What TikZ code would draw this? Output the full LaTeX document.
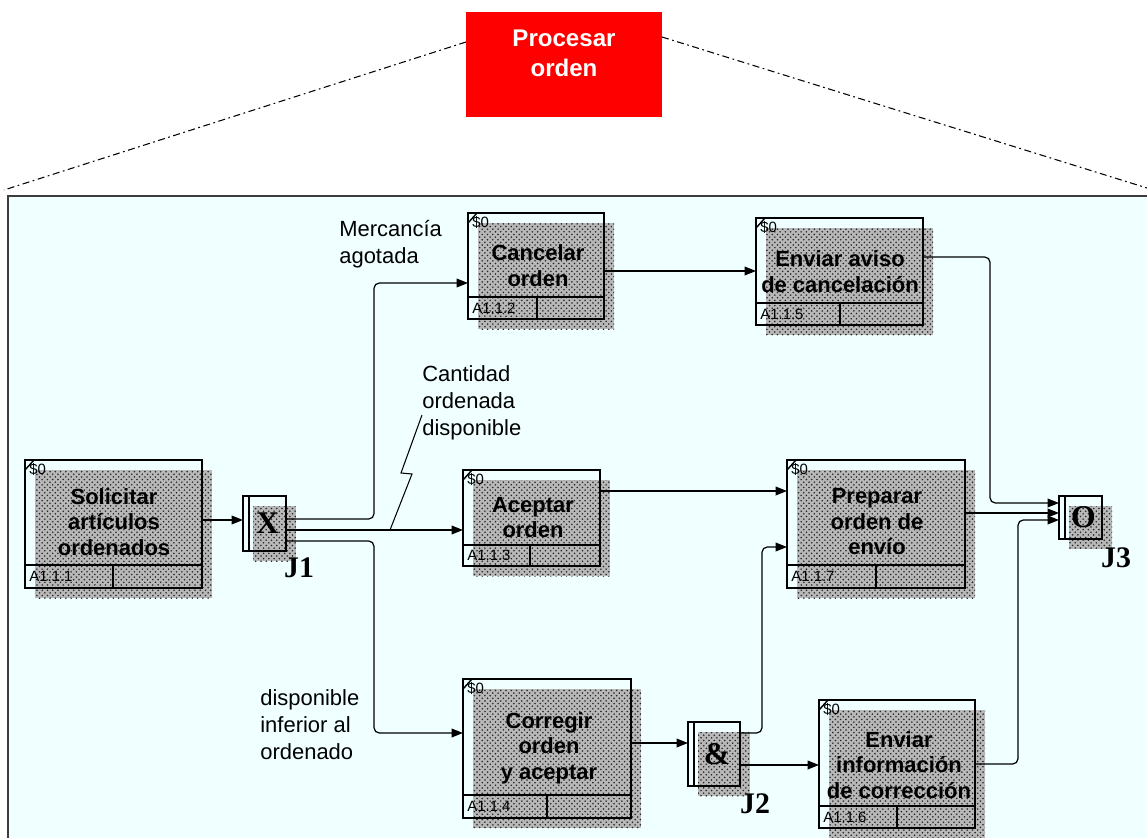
\documentclass[tikz,border=0pt]{standalone}
\usepackage{fontspec}
\setmainfont{Liberation Sans}
\newfontfamily\junctionfont{Liberation Serif}
\usetikzlibrary{patterns,arrows.meta,calc}

\definecolor{panelbg}{RGB}{240,255,255}
\definecolor{panelrule}{RGB}{60,60,60}
\definecolor{hatch}{gray}{0.15}
\definecolor{hatchbase}{gray}{0.72}
\definecolor{procred}{RGB}{255,0,0}

% Activity box: name, x, y, width, height, divider offset, split offset, number
\newcommand\idefact[8]{%
  \fill[hatchbase] (#2+10,#3+10) rectangle ++(#4,#5);
  \fill[dropshadow] (#2+10,#3+10) rectangle ++(#4,#5);
  \node[actframe, minimum width={#4*0.02cm}, minimum height={#5*0.02cm}] (#1) at (#2,#3) {};
  \draw[boxrule] ($(#1.north west)+(0,#6)$) -- ++(#4,0);
  \draw[boxrule] ($(#1.north west)+(#7,#6)$) -- ($(#1.north west)+(#7,#5)$);
  \draw[line width=0.8pt] ($(#1.north west)+(0,10)$) -- ++(9,-10);
  \node[idtext, anchor=north west] at ($(#1.north west)+(4,3)$) {\$0};
  \node[idtext, anchor=west] at ($(#1.north west)+(4,{(#5+#6)/2})$) {#8};
}

% Junction box: name, x, y, width, height, symbol
\newcommand\idefjunc[6]{%
  \fill[hatchbase] (#2+10,#3+10) rectangle ++(#4,#5);
  \fill[dropshadow] (#2+10,#3+10) rectangle ++(#4,#5);
  \node[actframe, minimum width={#4*0.02cm}, minimum height={#5*0.02cm}] (#1) at (#2,#3) {};
  \draw[boxrule] ($(#1.north west)+(6,0)$) -- ($(#1.south west)+(6,0)$);
  \node[jsym] at ($(#1.center)+(3,0)$) {#6};
}

\begin{document}
\begin{tikzpicture}[x=0.02cm, y=-0.02cm,
  dropshadow/.style={pattern=crosshatch dots, pattern color=hatch},
  actframe/.style={draw, line width=1.1pt, rectangle, inner sep=0pt, outer sep=0pt, anchor=north west},
  boxrule/.style={line width=1.1pt},
  conn/.style={line width=0.7pt, -{Triangle[length=6.5pt,width=5pt]}},
  elbow/.style={rounded corners=3pt},
  boxtext/.style={font=\fontsize{12.5}{14.5}\selectfont\bfseries, align=center, inner sep=0pt},
  remark/.style={font=\fontsize{12.5}{15.3}\selectfont, align=left, inner sep=0pt, anchor=west},
  idtext/.style={font=\fontsize{8.5}{9}\selectfont, inner sep=0pt},
  jname/.style={font=\junctionfont\bfseries\fontsize{17}{17}\selectfont, inner sep=0pt},
  jsym/.style={font=\junctionfont\bfseries\fontsize{18}{18}\selectfont, inner sep=0pt},
  contour/.style={dash pattern=on 4pt off 2pt on 1pt off 2pt, line width=0.6pt}]

\useasboundingbox (0,0) rectangle (1147,838);

% parent activity and its decomposition panel
\node[fill=procred, anchor=north west, inner sep=0pt, outer sep=0pt,
      minimum width={196*0.02cm}, minimum height={105*0.02cm}] (proc) at (466,12) {};
\node[font=\fontsize{13.7}{17}\selectfont\bfseries, text=white, align=center, inner sep=0pt]
  (proctext) at (564,53) {Procesar\\orden};
\coordinate (cornerL) at (4,190);
\coordinate (cornerR) at (1147,188);
\draw[contour] (proc.west |- 0,42) -- (cornerL);
\draw[contour] (proc.east |- 0,37) -- (cornerR);

\fill[panelbg] (8,196) rectangle (1147,838);
\draw[panelrule, line width=1.2pt] (8,838) -- (8,196) -- (1147,196);

% activities
\idefact{sol}{25}{460}{177}{128}{105}{88}{A1.1.1}
\idefact{can}{468}{213}{136}{106}{84}{69}{A1.1.2}
\idefact{acp}{463}{470}{137}{96}{75}{67}{A1.1.3}
\idefact{cor}{463}{679}{168}{139}{116}{84}{A1.1.4}
\idefact{avi}{756}{218}{167}{107}{85}{84}{A1.1.5}
\idefact{inf}{819}{700}{156}{128}{106}{78}{A1.1.6}
\idefact{pre}{787}{460}{178}{128}{105}{89}{A1.1.7}

\node[boxtext] (soltext) at (114,522) {Solicitar\\artículos\\ordenados};
\node[boxtext] (cantext) at (538,265.5) {Cancelar\\orden};
\node[boxtext] (acptext) at (533,517.5) {Aceptar\\orden};
\node[boxtext] (cortext) at (549,748) {Corregir\\orden\\y aceptar};
\node[boxtext] (avitext) at (840,271.5) {Enviar aviso\\de cancelación};
\node[boxtext] (inftext) at (899,765) {Enviar\\información\\de corrección};
\node[boxtext] (pretext) at (877,522) {Preparar\\orden de\\envío};

% junctions
\idefjunc{j1}{243}{496}{43}{55}{X}
\idefjunc{j2}{688}{722}{52}{64}{\&}
\idefjunc{j3}{1059}{496}{43}{43}{O}
\node[jname] (j1name) at (299,568) {J1};
\node[jname] (j2name) at (755,804) {J2};
\node[jname] (j3name) at (1116,558) {J3};

% arrow labels
\node[remark] (lblout) at (339,244) {Mercancía\\agotada};
\node[remark] (lblqty) at (422,403) {Cantidad\\ordenada\\disponible};
\node[remark] (lbllow) at (260,725) {disponible\\inferior al\\ordenado};

% connectors
\draw[conn] (sol.east |- 0,520) -- (j1.west |- 0,520);
\draw[conn, elbow] (j1.east |- 0,519) -- (374,519) -- (374,283) -- (can.west |- 0,283);
\draw[conn] (j1.east |- 0,530) -- (acp.west |- 0,530);
\draw[conn, elbow] (j1.east |- 0,541) -- (374,541) -- (374,733) -- (cor.west |- 0,733);
\draw[line width=0.6pt] (lblqty.south west |- 0,415) -- (401,473) -- (412,474) -- (390,530);

\draw[conn] (can.east |- 0,271) -- (avi.west |- 0,271);
\draw[conn, elbow] (avi.east |- 0,257) -- (990,257) -- (990,503) -- (j3.west |- 0,503);
\draw[conn] (acp.east |- 0,491) -- (pre.west |- 0,491);
\draw[conn] (pre.east |- 0,513) -- (j3.west |- 0,513);
\draw[conn] (cor.east |- 0,743) -- (j2.west |- 0,743);
\draw[conn, elbow] (j2.east |- 0,733) -- (762,733) -- (762,547) -- (pre.west |- 0,547);
\draw[conn] (j2.east |- 0,765) -- (inf.west |- 0,765);
\draw[conn, elbow] (inf.east |- 0,764) -- (1018,764) -- (1018,520) -- (j3.west |- 0,520);
\end{tikzpicture}
\end{document}
